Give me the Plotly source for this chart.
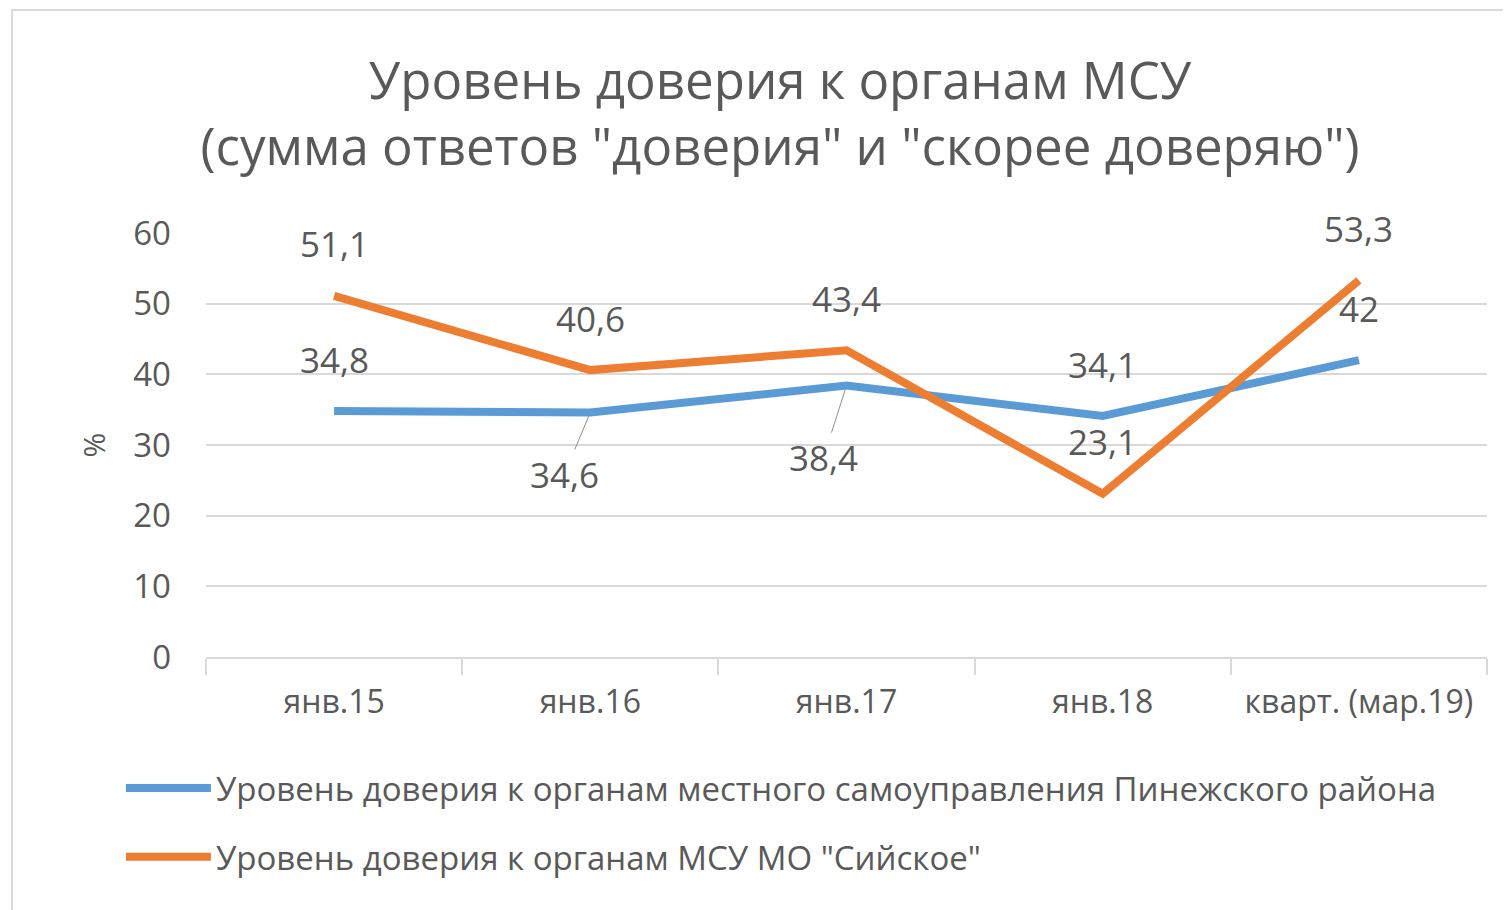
import plotly.graph_objects as go

categories = ["янв.15", "янв.16", "янв.17", "янв.18", "кварт. (мар.19)"]
pinega = [34.8, 34.6, 38.4, 34.1, 42]
siya = [51.1, 40.6, 43.4, 23.1, 53.3]
pinega_labels = ["34,8", "34,6", "38,4", "34,1", "42"]
siya_labels = ["51,1", "40,6", "43,4", "23,1", "53,3"]
name_pinega = "Уровень доверия к органам местного самоуправления Пинежского района"
name_siya = "Уровень доверия к органам МСУ МО \"Сийское\""
title_lines = ["Уровень доверия к органам МСУ", "(сумма ответов \"доверия\" и \"скорее доверяю\")"]
y_ticks = [0, 10, 20, 30, 40, 50, 60]

BLUE = "#5B9BD5"
ORANGE = "#ED7D31"
TXT = "#595959"
FONT = "Open Sans"
LBL = 35

fig = go.Figure()
fig.add_trace(go.Scatter(x=categories, y=pinega, mode="lines", name=name_pinega,
                         line=dict(color=BLUE, width=8), legend="legend"))
fig.add_trace(go.Scatter(x=categories, y=siya, mode="lines", name=name_siya,
                         line=dict(color=ORANGE, width=8), legend="legend2"))

annotations = []
# labels with leader lines (below the point) for these blue points
leader = {1: (-26, 62), 2: (-23, 72)}
for i, (c, v, t) in enumerate(zip(categories, pinega, pinega_labels)):
    if i in leader:
        ax, ay = leader[i]
        annotations.append(dict(x=c, y=v, text=t, showarrow=True, ax=ax, ay=ay,
                                arrowhead=0, arrowwidth=1, arrowcolor="#8c8c8c", standoff=4,
                                font=dict(family=FONT, size=LBL, color=TXT)))
    else:
        annotations.append(dict(x=c, y=v, text=t, showarrow=False, yshift=52,
                                font=dict(family=FONT, size=LBL, color=TXT)))
for c, v, t in zip(categories, siya, siya_labels):
    annotations.append(dict(x=c, y=v, text=t, showarrow=False, yshift=52,
                            font=dict(family=FONT, size=LBL, color=TXT)))

fig.update_layout(
    width=1511, height=910,
    paper_bgcolor="white", plot_bgcolor="white",
    margin=dict(l=198, r=32, t=225, b=261, autoexpand=False),
    title=dict(text=title_lines[0] + "<br>" + title_lines[1], x=0.511, xanchor="center",
               y=0.9, yanchor="middle", font=dict(family=FONT, size=51, color=TXT)),
    font=dict(family=FONT, color=TXT),
    showlegend=True,
    legend=dict(x=-0.0664, y=-0.309, xanchor="left", yanchor="middle", orientation="h",
                font=dict(family=FONT, size=33, color=TXT), itemwidth=85, bgcolor="rgba(0,0,0,0)"),
    legend2=dict(x=-0.0664, y=-0.4715, xanchor="left", yanchor="middle", orientation="h",
                 font=dict(family=FONT, size=33, color=TXT), itemwidth=85, bgcolor="rgba(0,0,0,0)"),
    annotations=annotations,
)
fig.update_xaxes(type="category", range=[-0.5, 4.5], automargin=False, showgrid=False,
                 showline=True, linecolor="#d9d9d9", linewidth=2,
                 ticks="outside", tickson="boundaries", ticklen=16, tickcolor="#d9d9d9", tickwidth=2,
                 tickfont=dict(family=FONT, size=32, color=TXT), ticklabelstandoff=16, zeroline=False)
fig.update_yaxes(range=[0, 60], tickvals=y_ticks, automargin=False, showgrid=True,
                 gridcolor="#d9d9d9", gridwidth=2,
                 zeroline=False, showline=False, tickfont=dict(family=FONT, size=33, color=TXT),
                 ticklabelstandoff=34,
                 title=dict(text="%", standoff=18, font=dict(family=FONT, size=30, color=TXT)))
# chart frame
fig.add_shape(type="rect", xref="paper", yref="paper", x0=-0.1514, x1=1.1, y0=-0.7, y1=1.526,
              line=dict(color="#d9d9d9", width=2), layer="below")

fig.write_html("out.html")
